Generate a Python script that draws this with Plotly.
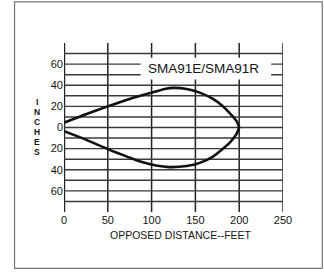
import plotly.graph_objects as go

# ---- data ----
upper_x = [0, 25, 50, 75, 100, 115, 125, 140, 155, 170, 180, 190, 197, 200]
upper_y = [4.5, 12.5, 20, 27, 33, 36.5, 37.5, 36.5, 33, 27, 21, 13, 6, 0]
lower_x = [200, 197, 190, 180, 170, 155, 140, 120, 105, 90, 75, 50, 25, 0]
lower_y = [0, -6, -13.5, -21, -27.5, -33.5, -36.5, -37.5, -36, -33, -28.5, -20.5, -11.5, -3.5]

x_ticks = [0, 50, 100, 150, 200, 250]
y_ticks = [60, 40, 20, 0, -20, -40, -60]
y_ticktext = ["60", "40", "20", "0", "20", "40", "60"]
h_grid = [-70, -60, -50, -40, -30, -20, -10, 0, 10, 20, 30, 40, 50, 60, 70]
label_text = "SMA91E/SMA91R"
x_title = "OPPOSED DISTANCE--FEET"
y_title = "INCHES"

W, H = 324, 272
L, R, T, B = 63.5, 41.3, 43, 60.3
pw, ph = W - L - R, H - T - B

def px2paper_x(px):
    return (px - L) / pw

def px2paper_y(py):
    return (H - B - py) / ph

FONT = "Liberation Sans, Arial, sans-serif"
GRID = "#3a3a3a"
TXT = "#141414"

fig = go.Figure()
fig.add_trace(go.Scatter(x=upper_x + lower_x, y=upper_y + lower_y, mode="lines",
                         line=dict(color="#111111", width=2.6, shape="spline", smoothing=0.6),
                         hoverinfo="skip", showlegend=False))

shapes = []
for yv in h_grid:
    shapes.append(dict(type="line", xref="x", yref="y", x0=x_ticks[0], x1=x_ticks[-1], y0=yv, y1=yv,
                       line=dict(color=GRID, width=1.4), layer="below"))
for xv in x_ticks:
    shapes.append(dict(type="line", xref="x", yref="paper", x0=xv, x1=xv, y0=0, y1=1,
                       line=dict(color="#222222", width=2.4 if xv == 0 else 1.5), layer="below"))
# white label box
shapes.append(dict(type="rect", xref="x", yref="y", x0=87.5, x1=236.5, y0=45.5, y1=66,
                   fillcolor="white", line=dict(width=0), layer="below"))
# outer frame
shapes.append(dict(type="rect", xref="paper", yref="paper",
                   x0=px2paper_x(14), x1=px2paper_x(322), y0=px2paper_y(268), y1=px2paper_y(2),
                   line=dict(color="#777777", width=1.2), fillcolor="rgba(0,0,0,0)"))

annotations = [
    dict(x=159, y=56, xref="x", yref="y", text=label_text, showarrow=False,
         xanchor="center", yanchor="middle",
         font=dict(family=FONT, size=13.5, color=TXT)),
    dict(x=px2paper_x(181), y=px2paper_y(235), xref="paper", yref="paper", text=x_title,
         showarrow=False, xanchor="center", yanchor="middle",
         font=dict(family=FONT, size=10.5, color=TXT)),
]
letter_y = [101.7, 111.7, 121.7, 131.7, 141.7, 151.7]
for ch, py in zip(y_title, letter_y):
    annotations.append(dict(x=px2paper_x(36), y=px2paper_y(py), xref="paper", yref="paper",
                            text="<b>%s</b>" % ch, showarrow=False, xanchor="center", yanchor="middle",
                            font=dict(family=FONT, size=8.5, color=TXT)))

fig.update_layout(
    width=W, height=H,
    margin=dict(l=L, r=R, t=T, b=B, pad=0),
    paper_bgcolor="white", plot_bgcolor="rgba(0,0,0,0)",
    shapes=shapes, annotations=annotations,
    xaxis=dict(range=[0, 250], tickvals=x_ticks, showgrid=False, zeroline=False, showline=False,
               ticks="", tickfont=dict(family=FONT, size=11, color=TXT)),
    yaxis=dict(range=[-80, 80], tickvals=y_ticks, ticktext=y_ticktext, showgrid=False,
               zeroline=False, showline=False, ticks="",
               tickfont=dict(family=FONT, size=11, color=TXT)),
)
fig.write_html("out.html", config={"displayModeBar": False},
               post_script="document.body.style.margin='0';document.body.style.overflow='hidden';")
